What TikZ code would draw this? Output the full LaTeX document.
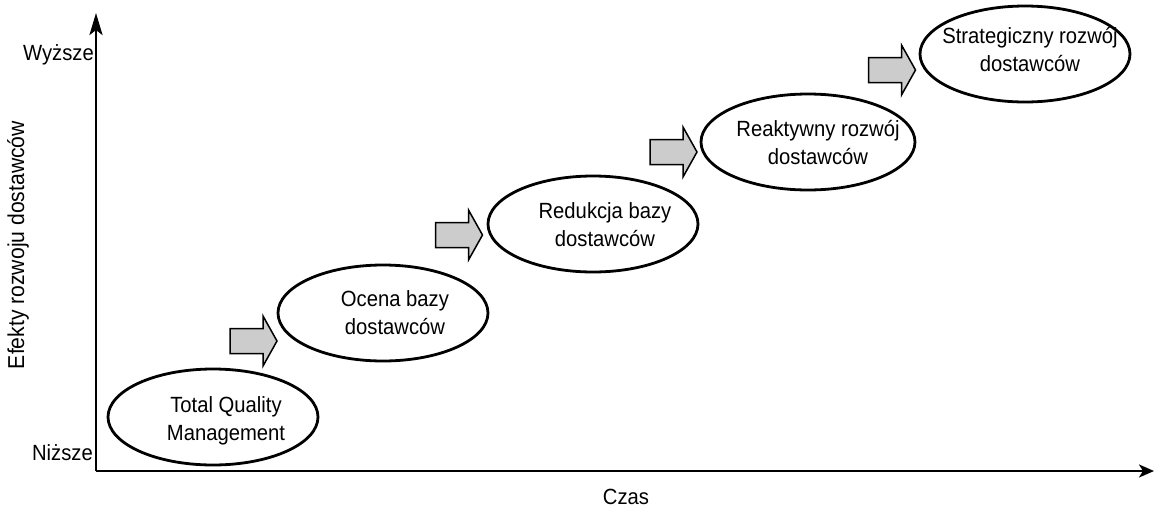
\documentclass[tikz,border=0pt]{standalone}
\usepackage{fontspec}
\setmainfont{Liberation Sans}[FakeStretch=0.92]
\usetikzlibrary{shapes.geometric,arrows.meta,calc}
\begin{document}
\begin{tikzpicture}[x=1pt,y=-1pt,
  every node/.style={font=\fontsize{22}{28}\selectfont},
  ell/.style={draw,line width=2.8pt,ellipse,inner sep=0pt,minimum width=210pt,minimum height=96pt},
  lab/.style={align=center,inner sep=0pt},
  blk/.style={draw,line width=1.5pt,fill=black!20,line join=miter},
  axis/.style={line width=2.5pt},
  blockarrow/.pic={\draw[blk] (-23.5,-12.5) -- (9.5,-12.5) -- (9.5,-25) -- (23.5,0) -- (9.5,25) -- (9.5,12.5) -- (-23.5,12.5) -- cycle;}]
\useasboundingbox (0,0) rectangle (1160,512);
\coordinate (ytop) at (96,13);
\coordinate (orig) at (96,471);
\coordinate (xend) at (1154,471);
\draw[axis,-{Stealth[length=22pt,width=13pt,inset=5pt]}] (orig) -- (ytop);
\draw[axis,-{Stealth[length=15pt,width=13pt,inset=4pt]}] (orig) -- (xend);
\node[anchor=east,inner sep=0pt] (hi) at (94,55) {Wyższe};
\node[anchor=east,inner sep=0pt] (lo) at (93,453) {Niższe};
\node[inner sep=0pt] (cz) at (626,497) {Czas};
\node[rotate=90,inner sep=0pt,font=\fontsize{23}{28}\selectfont] (yl) at (18,245) {Efekty rozwoju dostawców};
\node[ell] (e1) at (213,417) {};
\node[lab] (t1) at (226,421) {Total Quality\\Management};
\node[ell] (e2) at (383,313) {};
\node[lab] (t2) at (395,313) {Ocena bazy\\dostawców};
\node[ell] (e3) at (593,224) {};
\node[lab] (t3) at (605,225) {Redukcja bazy\\dostawców};
\node[ell,minimum width=214pt] (e4) at (808,142) {};
\node[lab] (t4) at (818,143) {Reaktywny rozwój\\dostawców};
\node[ell,minimum width=210pt] (e5) at (1025,54) {};
\node[lab] (t5) at (1030,50) {Strategiczny rozwój\\dostawców};
\pic (a1) at (253.5,341) {blockarrow};
\pic (a2) at (459,235) {blockarrow};
\pic (a3) at (673.5,152) {blockarrow};
\pic (a4) at (892,70) {blockarrow};
\end{tikzpicture}
\end{document}
